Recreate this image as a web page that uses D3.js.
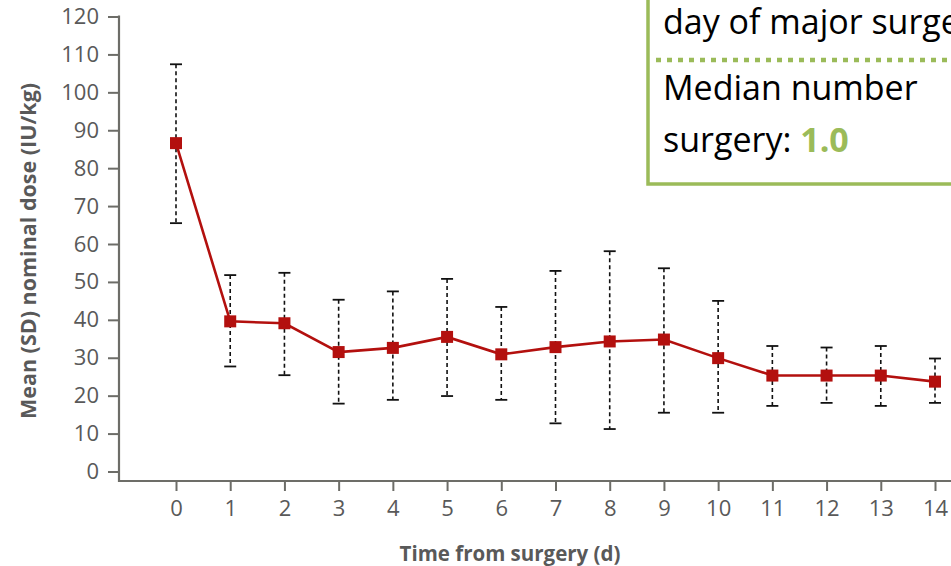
<!DOCTYPE html>
<html><head><meta charset="utf-8">
<script src="https://cdn.jsdelivr.net/npm/d3@7"></script>
<style>body{margin:0;background:#fff}svg{display:block}</style>
</head><body>
<svg id="c" width="951" height="566"></svg>
<script>
const days = [0,1,2,3,4,5,6,7,8,9,10,11,12,13,14];
const meanDose = [86.6,39.6,39.1,31.5,32.6,35.5,30.9,32.8,34.3,34.8,29.9,25.3,25.3,25.3,23.7];
const upperSD = [107.4,51.8,52.4,45.3,47.5,50.8,43.4,52.9,58.1,53.6,45.0,33.1,32.7,33.1,29.8];
const lowerSD = [65.5,27.7,25.4,17.9,18.9,19.9,18.9,12.7,11.2,15.5,15.5,17.3,18.1,17.3,18.1];
const yTicks = [0,10,20,30,40,50,60,70,80,90,100,110,120];
const boxLines = ["day of major surgery", "Median number", "surgery: "];
const boxValue = "1.0";

const svg = d3.select("#c");
const x = d3.scaleLinear().domain([0,14]).range([176,935]);
const y = d3.scaleLinear().domain([0,120]).range([471.5,16.5]);
const axisColor = "#6d6d68", textColor = "#595959";
const axisX = 119, axisY = 481;

// Y axis
const ya = svg.append("g").attr("transform",`translate(${axisX},0)`)
  .call(d3.axisLeft(y).tickValues(yTicks).tickSize(11).tickPadding(9));
ya.select(".domain").remove();
ya.selectAll("line").attr("stroke",axisColor).attr("stroke-width",2);
ya.selectAll("text").attr("fill",textColor).style("font-family","'Open Sans'").style("font-size","22px");
svg.append("line").attr("x1",axisX).attr("x2",axisX).attr("y1",y(120)-1).attr("y2",axisY+1)
  .attr("stroke",axisColor).attr("stroke-width",2.2);

// X axis
const xa = svg.append("g").attr("transform",`translate(0,${axisY})`)
  .call(d3.axisBottom(x).tickValues(days).tickSize(10).tickPadding(9).tickFormat(d3.format("d")));
xa.select(".domain").remove();
xa.selectAll("line").attr("stroke",axisColor).attr("stroke-width",2);
xa.selectAll("text").attr("fill",textColor).style("font-family","'Open Sans'").style("font-size","22px");
svg.append("line").attr("x1",axisX).attr("x2",951).attr("y1",axisY).attr("y2",axisY)
  .attr("stroke",axisColor).attr("stroke-width",2.2);

// Axis titles
svg.append("text").attr("transform",`translate(36,251) rotate(-90)`)
  .attr("text-anchor","middle").attr("fill",textColor)
  .style("font-family","'Open Sans'").style("font-weight","bold").style("font-size","21.5px")
  .text("Mean (SD) nominal dose (IU/kg)");
svg.append("text").attr("x",510).attr("y",561).attr("text-anchor","middle").attr("fill",textColor)
  .style("font-family","'Open Sans'").style("font-weight","bold").style("font-size","20.5px")
  .text("Time from surgery (d)");

// Error bars
const eb = svg.append("g");
days.forEach((d,i)=>{
  eb.append("line").attr("x1",x(d)).attr("x2",x(d)).attr("y1",y(upperSD[i])).attr("y2",y(lowerSD[i]))
    .attr("stroke","#111").attr("stroke-width",1.6).attr("stroke-dasharray","4,3");
  [upperSD[i],lowerSD[i]].forEach(v=>{
    eb.append("line").attr("x1",x(d)-6).attr("x2",x(d)+6).attr("y1",y(v)).attr("y2",y(v))
      .attr("stroke","#111").attr("stroke-width",1.8);
  });
});

// Line + markers
const red = "#B3100E";
svg.append("path").datum(days).attr("fill","none").attr("stroke",red).attr("stroke-width",2.6)
  .attr("d",d3.line().x(d=>x(d)).y((d,i)=>y(meanDose[i])));
svg.append("g").selectAll("rect").data(days).join("rect")
  .attr("x",d=>x(d)-6).attr("y",(d,i)=>y(meanDose[i])-6).attr("width",12).attr("height",12).attr("fill",red);

// Text box
const green = "#9BBB59";
const box = svg.append("g");
box.append("rect").attr("x",648).attr("y",-20).attr("width",320).attr("height",204)
  .attr("fill","#fff").attr("stroke",green).attr("stroke-width",3.5);
box.append("line").attr("x1",656).attr("x2",955).attr("y1",60).attr("y2",60)
  .attr("stroke",green).attr("stroke-width",4.5).attr("stroke-dasharray","5,6");
const fs = "34px";
box.append("text").attr("x",663).attr("y",34).attr("fill","#000").style("font-family","'Open Sans'").style("font-size",fs).text(boxLines[0]);
box.append("text").attr("x",663).attr("y",100).attr("fill","#000").style("font-family","'Open Sans'").style("font-size",fs).text(boxLines[1]);
const t3 = box.append("text").attr("x",663).attr("y",152).attr("fill","#000").style("font-family","'Open Sans'").style("font-size",fs);
t3.append("tspan").text(boxLines[2]);
t3.append("tspan").attr("fill",green).style("font-weight","bold").text(boxValue);
</script>
</body></html>
